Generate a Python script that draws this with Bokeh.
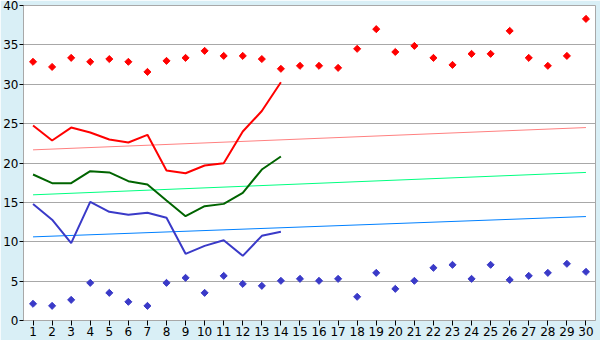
from bokeh.plotting import figure
from bokeh.models import Range1d, FixedTicker
from bokeh.embed import file_html
from bokeh.resources import INLINE
import math

days = list(range(1, 31))
high_points = [32.85, 32.2, 33.35, 32.85, 33.2, 32.85, 31.57, 32.97, 33.35, 34.24,
               33.6, 33.6, 33.2, 31.96, 32.34, 32.34, 32.08, 34.5, 37.0, 34.1,
               34.87, 33.35, 32.46, 33.86, 33.86, 36.78, 33.35, 32.34, 33.6, 38.3]
low_points = [2.12, 1.86, 2.62, 4.78, 3.51, 2.37, 1.86, 4.78, 5.42, 3.51,
              5.67, 4.65, 4.4, 5.04, 5.29, 5.04, 5.29, 3.01, 6.05, 4.02,
              5.04, 6.69, 7.07, 5.29, 7.07, 5.16, 5.67, 6.05, 7.2, 6.18]
line_days = list(range(1, 15))
red_line = [24.76, 22.86, 24.5, 23.87, 22.98, 22.6, 23.58, 19.05, 18.7, 19.68, 19.98, 24.0, 26.6, 30.26]
green_line = [18.54, 17.44, 17.44, 18.96, 18.8, 17.69, 17.27, 15.24, 13.25, 14.52, 14.81, 16.21, 19.17, 20.83]
blue_line = [14.8, 12.8, 9.82, 15.07, 13.8, 13.42, 13.68, 13.04, 8.47, 9.48, 10.2, 8.21, 10.75, 11.26]
trend_days = [1, 30]
red_trend = [21.67, 24.5]
green_trend = [15.96, 18.8]
blue_trend = [10.62, 13.2]
y_ticks = [0, 5, 10, 15, 20, 25, 30, 35, 40]

p = figure(width=600, height=340, output_backend="svg", toolbar_location=None,
           x_range=Range1d(0.5, 30.5), y_range=Range1d(0, 40))
p.min_border_left = 20
p.min_border_right = 5
p.min_border_top = 5
p.min_border_bottom = 20
p.border_fill_color = "#D9EFF6"
p.background_fill_color = "white"
p.outline_line_color = "#A8A8A8"

p.xgrid.grid_line_color = None
p.ygrid.grid_line_color = "#A8A8A8"
p.ygrid.ticker = FixedTicker(ticks=y_ticks)

p.yaxis.ticker = FixedTicker(ticks=y_ticks)
p.xaxis.ticker = FixedTicker(ticks=days)
for ax in (p.xaxis, p.yaxis):
    ax.axis_line_color = "#A8A8A8"
    ax.major_tick_line_color = "black"
    ax.major_tick_out = 5
    ax.major_tick_in = 0
    ax.minor_tick_line_color = None
    ax.major_label_text_font = "DejaVu Sans"
    ax.major_label_text_font_size = "12px"
    ax.major_label_text_color = "black"
    ax.major_label_standoff = 1
p.yaxis.major_tick_out = 4

p.line(trend_days, red_trend, color="#FF8080", line_width=1)
p.line(trend_days, green_trend, color="#00FF80", line_width=1)
p.line(trend_days, blue_trend, color="#0080FF", line_width=1)

p.line(line_days, red_line, color="#FF0000", line_width=2)
p.line(line_days, green_line, color="#006400", line_width=2)
p.line(line_days, blue_line, color="#3A3AC8", line_width=2)

p.scatter(days, high_points, marker="square", angle=math.pi / 4, size=5, color="#FF0000")
p.scatter(days, low_points, marker="square", angle=math.pi / 4, size=5, color="#3A3AC8")

open("out.html", "w").write(file_html(p, INLINE))
